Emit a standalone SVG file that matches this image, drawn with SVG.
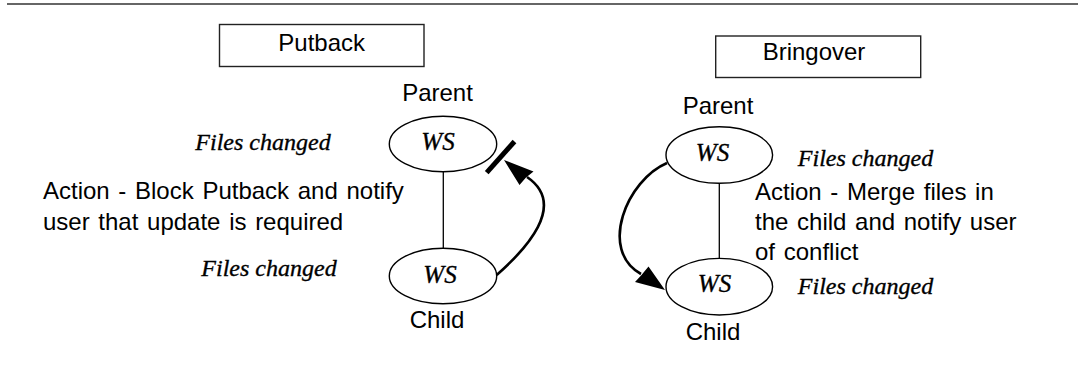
<svg xmlns="http://www.w3.org/2000/svg" width="1078" height="391" viewBox="0 0 1078 391">
  <style>
    .sans { font-family: "Liberation Sans", Arial, sans-serif; font-size: 24px; fill: #000; }
    .note { word-spacing: 2px; }
    .ital { font-family: "Liberation Serif", "Times New Roman", serif; font-style: italic; font-size: 24px; fill: #000; stroke: #000; stroke-width: 0.35; }
    .ws { font-family: "Liberation Serif", "Times New Roman", serif; font-style: italic; font-size: 25px; fill: #000; stroke: #000; stroke-width: 0.35; }
    .box { fill: #fff; stroke: #222; stroke-width: 1.4; }
    .ws-node { fill: #fff; stroke: #000; stroke-width: 1.4; }
    .link { fill: none; stroke: #000; stroke-width: 1.3; }
    .flow { fill: none; stroke: #000; stroke-width: 2.6; }
    .head { fill: #000; stroke: none; }
    .block { stroke: #000; stroke-width: 5; }
  </style>

  <!-- page rule -->
  <line x1="7" y1="4" x2="1078" y2="4" stroke="#666" stroke-width="2"/>

  <!-- Putback side -->
  <g id="putback-title">
    <rect class="box" x="219.5" y="24.5" width="204.5" height="42"/>
    <text class="sans" x="321.7" y="51" text-anchor="middle">Putback</text>
  </g>
  <g id="putback-parent">
    <text class="sans" x="437.5" y="101" text-anchor="middle">Parent</text>
    <ellipse class="ws-node" cx="443" cy="144" rx="53.7" ry="27.8"/>
    <text class="ws" x="438" y="149.5" text-anchor="middle">WS</text>
  </g>
  <g id="putback-child">
    <ellipse class="ws-node" cx="443" cy="276" rx="53.7" ry="27.8"/>
    <text class="ws" x="440" y="283" text-anchor="middle">WS</text>
    <text class="sans" x="437" y="327.5" text-anchor="middle">Child</text>
  </g>
  <g id="putback-notes">
    <text class="ital" x="263" y="149.5" text-anchor="middle">Files changed</text>
    <text class="ital" x="269" y="275.5" text-anchor="middle">Files changed</text>
    <text class="sans note" x="43" y="198.5">Action - Block Putback and notify</text>
    <text class="sans note" x="43" y="229.5">user that update is required</text>
  </g>

  <!-- Bringover side -->
  <g id="bringover-title">
    <rect class="box" x="715.7" y="36" width="205" height="41.5"/>
    <text class="sans" x="814" y="60" text-anchor="middle">Bringover</text>
  </g>
  <g id="bringover-parent">
    <text class="sans" x="718" y="114" text-anchor="middle">Parent</text>
    <ellipse class="ws-node" cx="719.3" cy="155" rx="53.3" ry="28.3"/>
    <text class="ws" x="712.5" y="160.5" text-anchor="middle">WS</text>
  </g>
  <g id="bringover-child">
    <ellipse class="ws-node" cx="719.3" cy="286.7" rx="53.3" ry="28.3"/>
    <text class="ws" x="714.5" y="292" text-anchor="middle">WS</text>
    <text class="sans" x="713" y="340" text-anchor="middle">Child</text>
  </g>
  <g id="bringover-notes">
    <text class="ital" x="865.5" y="166" text-anchor="middle">Files changed</text>
    <text class="ital" x="865.5" y="293.5" text-anchor="middle">Files changed</text>
    <text class="sans note" x="755" y="200">Action - Merge files in</text>
    <text class="sans note" x="755" y="230">the child and notify user</text>
    <text class="sans note" x="755" y="260">of conflict</text>
  </g>

  <!-- connectors -->
  <g id="connectors">
    <line class="link" x1="443.3" y1="171.8" x2="443.3" y2="248.2"/>
    <line class="link" x1="719.3" y1="183.3" x2="719.3" y2="258.4"/>

    <!-- putback: child to parent, blocked -->
    <path class="flow" d="M496.7,275 C525,250 568,205 527,177"/>
    <polygon class="head" points="504,160 519.5,185 526,177.5 533.5,171.5"/>
    <line class="block" x1="486.7" y1="172.7" x2="514.5" y2="141.5"/>

    <!-- bringover: parent to child -->
    <path class="flow" d="M667,163 C627,180 598,250 641,274"/>
    <polygon class="head" points="665,290 635,282 641.5,275 648.5,266.5"/>
  </g>
</svg>
